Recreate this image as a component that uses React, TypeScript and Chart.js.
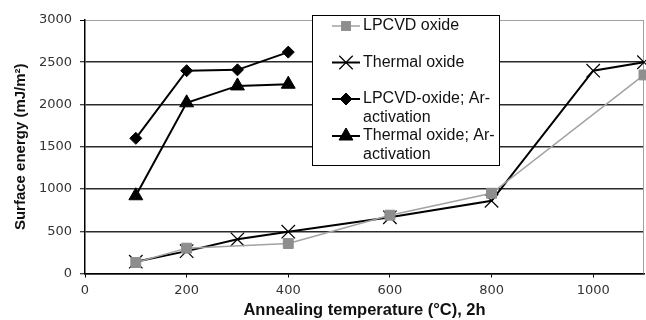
import React, { useEffect, useRef } from 'react';
import { Chart, registerables } from 'chart.js';

Chart.register(...registerables);

// ---- data ----
const seriesNames = [
  'LPCVD oxide',
  'Thermal oxide',
  'LPCVD-oxide; Ar-activation',
  'Thermal oxide; Ar-activation',
];
const lpcvdTemps = [100, 200, 400, 600, 800, 1100];
const lpcvdEnergy = [130, 300, 355, 690, 950, 2350];
const thermalTemps = [100, 200, 300, 400, 600, 800, 1000, 1100];
const thermalEnergy = [140, 265, 405, 495, 665, 860, 2400, 2500];
const arTemps = [100, 200, 300, 400];
const lpcvdArEnergy = [1600, 2400, 2410, 2620];
const thermalArEnergy = [920, 2020, 2220, 2240];
const xTicks = [0, 200, 400, 600, 800, 1000];
const yTicks = [0, 500, 1000, 1500, 2000, 2500, 3000];
const xTitle = 'Annealing temperature (°C), 2h';
const yTitle = 'Surface energy (mJ/m²)';

// ---- styles ----
type Sty = { line: string; fill: string; point: string; radius: number; lineWidth: number; pw: number };
const styles: Sty[] = [
  { line: '#a2a2a2', fill: '#8e8e8e', point: 'rect', radius: 7, lineWidth: 1.5, pw: 1 },
  { line: '#000000', fill: '#000000', point: 'crossRot', radius: 9.5, lineWidth: 2, pw: 1.2 },
  { line: '#000000', fill: '#000000', point: 'rectRot', radius: 6, lineWidth: 2, pw: 1 },
  { line: '#000000', fill: '#000000', point: 'triangle', radius: 8, lineWidth: 2, pw: 1 },
];

const toPts = (xs: number[], ys: number[]) => xs.map((x, i) => ({ x, y: ys[i] }));
const seriesData = [
  toPts(lpcvdTemps, lpcvdEnergy),
  toPts(thermalTemps, thermalEnergy),
  toPts(arTemps, lpcvdArEnergy),
  toPts(arTemps, thermalArEnergy),
];

function drawMarker(ctx: CanvasRenderingContext2D, s: Sty, x: number, y: number) {
  ctx.save();
  ctx.fillStyle = s.fill;
  ctx.strokeStyle = s.fill;
  ctx.lineWidth = s.pw;
  ctx.beginPath();
  const r = s.radius;
  if (s.point === 'rect') {
    const h = Math.SQRT1_2 * r;
    ctx.rect(x - h, y - h, 2 * h, 2 * h);
    ctx.fill();
  } else if (s.point === 'rectRot') {
    ctx.moveTo(x - r, y);
    ctx.lineTo(x, y - r);
    ctx.lineTo(x + r, y);
    ctx.lineTo(x, y + r);
    ctx.closePath();
    ctx.fill();
    ctx.stroke();
  } else if (s.point === 'triangle') {
    let a = 0;
    ctx.moveTo(x + Math.sin(a) * r, y - Math.cos(a) * r);
    a += (2 * Math.PI) / 3;
    ctx.lineTo(x + Math.sin(a) * r, y - Math.cos(a) * r);
    a += (2 * Math.PI) / 3;
    ctx.lineTo(x + Math.sin(a) * r, y - Math.cos(a) * r);
    ctx.closePath();
    ctx.fill();
    ctx.stroke();
  } else if (s.point === 'crossRot') {
    const o = Math.SQRT1_2 * r;
    ctx.moveTo(x - o, y - o);
    ctx.lineTo(x + o, y + o);
    ctx.moveTo(x - o, y + o);
    ctx.lineTo(x + o, y - o);
    ctx.stroke();
  }
  ctx.restore();
}

const framePlugin = {
  id: 'frame',
  beforeDatasetsDraw(chart: any) {
    const { ctx, chartArea: a } = chart;
    ctx.save();
    ctx.strokeStyle = '#a0a0a0';
    ctx.lineWidth = 1;
    const xr = Math.round(a.right) - 0.5;
    ctx.beginPath();
    ctx.moveTo(xr, a.top);
    ctx.lineTo(xr, a.bottom);
    ctx.stroke();
    ctx.restore();
  },
};

const legendPlugin = {
  id: 'boxLegend',
  afterDraw(chart: any) {
    const ctx: CanvasRenderingContext2D = chart.ctx;
    const bx = 312.5, by = 15.5, bw = 187, bh = 150;
    ctx.save();
    ctx.fillStyle = '#ffffff';
    ctx.fillRect(bx, by, bw, bh);
    ctx.strokeStyle = '#000000';
    ctx.lineWidth = 1;
    ctx.strokeRect(bx, by, bw, bh);
    const rowY = [26, 62.5, 99, 136];
    const lineH = 19;
    ctx.font = '16px "Liberation Sans", Arial, sans-serif';
    ctx.textBaseline = 'middle';
    ctx.textAlign = 'left';
    seriesNames.forEach((name, i) => {
      const s = styles[i];
      const y = rowY[i];
      ctx.strokeStyle = s.line;
      ctx.lineWidth = s.lineWidth;
      ctx.beginPath();
      ctx.moveTo(332, y);
      ctx.lineTo(360, y);
      ctx.stroke();
      drawMarker(ctx, s, 346, y);
      const k = name.indexOf('Ar-');
      const lines = k >= 0 ? [name.slice(0, k + 3), name.slice(k + 3)] : [name];
      ctx.fillStyle = '#111111';
      lines.forEach((t, j) => ctx.fillText(t, 363, y + j * lineH));
    });
    ctx.restore();
  },
};

export default function App() {
  const ref = useRef<HTMLCanvasElement | null>(null);
  useEffect(() => {
    if (!ref.current) return;
    const chart = new Chart(ref.current, {
      type: 'line',
      data: {
        datasets: seriesData.map((d, i) => ({
          label: seriesNames[i],
          data: d,
          borderColor: styles[i].line,
          borderWidth: styles[i].lineWidth,
          backgroundColor: styles[i].fill,
          pointStyle: styles[i].point as any,
          pointRadius: styles[i].radius,
          pointBackgroundColor: styles[i].fill,
          pointBorderColor: styles[i].fill,
          pointBorderWidth: styles[i].pw,
          tension: 0,
          fill: false,
          clip: false as any,
        })),
      },
      options: {
        animation: false,
        responsive: false,
        maintainAspectRatio: false,
        layout: { autoPadding: false, padding: { top: 20, right: 2, left: 0, bottom: 0 } },
        plugins: { legend: { display: false }, tooltip: { enabled: false } },
        scales: {
          x: {
            type: 'linear',
            min: 0,
            max: 1100,
            afterBuildTicks: (s: any) => { s.ticks = xTicks.map((v) => ({ value: v })); },
            afterFit: (s: any) => { s.height = 46.5; s.paddingLeft = 0; s.paddingRight = 0; },
            grid: { drawOnChartArea: false, drawTicks: true, tickLength: 4, tickColor: '#000', color: '#000' },
            border: { color: '#000', width: 1.5 },
            ticks: {
              padding: 5,
              color: '#333',
              maxRotation: 0,
              callback: (v: any) => String(v),
              font: { family: '"DejaVu Sans", sans-serif', size: 13 },
            },
            title: {
              display: true,
              text: xTitle,
              color: '#111',
              padding: { top: 0, bottom: 0 },
              font: { family: '"Liberation Sans", Arial, sans-serif', size: 16.5, weight: 'bold' },
            },
          },
          y: {
            type: 'linear',
            min: 0,
            max: 3000,
            afterBuildTicks: (s: any) => { s.ticks = yTicks.map((v) => ({ value: v })); },
            afterFit: (s: any) => { s.width = 85; s.paddingTop = 0; s.paddingBottom = 0; },
            grid: {
              color: (c: any) => (c.tick && c.tick.value === 3000 ? '#a0a0a0' : '#2a2a2a'),
              lineWidth: (c: any) => (c.tick && c.tick.value === 3000 ? 1 : 1.5),
              drawTicks: true,
              tickLength: 5,
              tickColor: '#000',
              tickWidth: 1,
            },
            border: { color: '#000', width: 1.5 },
            ticks: {
              padding: 8,
              color: '#333',
              callback: (v: any) => String(v),
              font: { family: '"DejaVu Sans", sans-serif', size: 13 },
            },
            title: {
              display: true,
              text: yTitle,
              color: '#111',
              padding: { top: 12, bottom: 0 },
              font: { family: '"Liberation Sans", Arial, sans-serif', size: 15, weight: 'bold' },
            },
          },
        },
      },
      plugins: [framePlugin, legendPlugin],
    } as any);
    return () => chart.destroy();
  }, []);
  return (
    <div style={{ position: 'absolute', left: 0, top: 0, width: 646, height: 320, background: '#fff' }}>
      <canvas ref={ref} width={646} height={320} />
    </div>
  );
}
